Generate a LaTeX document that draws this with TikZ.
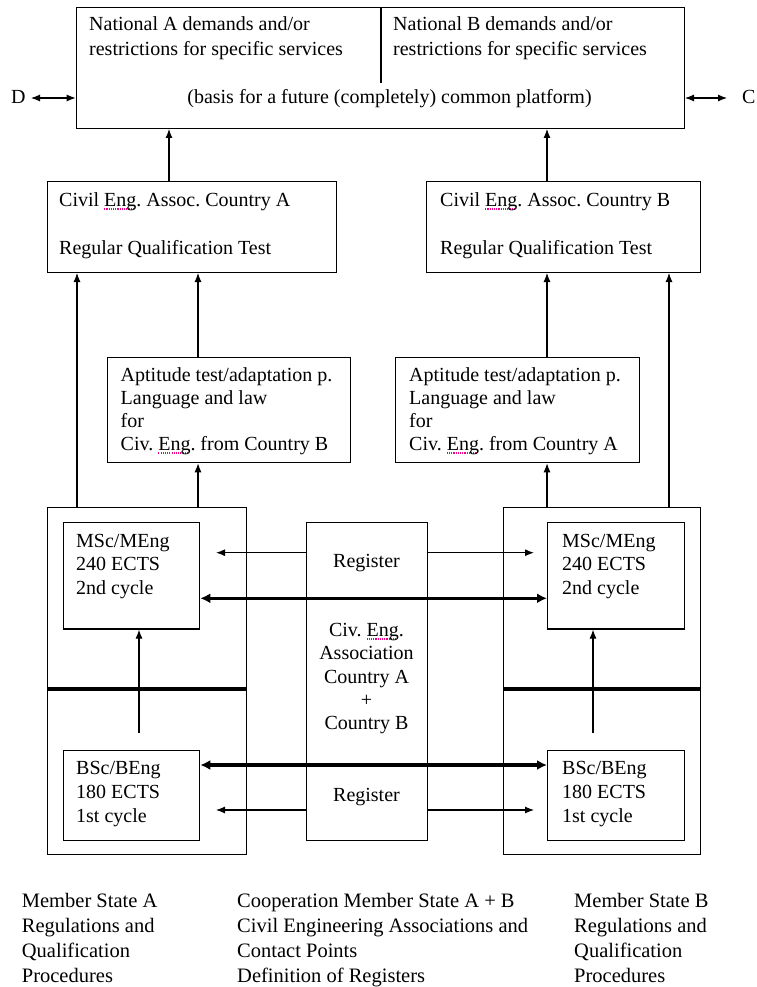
\documentclass[tikz,border=0pt]{standalone}
\usepackage{fontspec}
\setmainfont{Liberation Serif}
\usetikzlibrary{arrows.meta}
\newsavebox\spellbox
\newcommand\spellmark[1]{\sbox\spellbox{#1}\rlap{\raisebox{-3.5pt}{\textcolor{magenta}{\hbox to\wd\spellbox{\leaders\hbox{\rule{1.1pt}{1.1pt}\kern1.1pt}\hfil}}}}\usebox\spellbox}
\frenchspacing
\begin{document}
\frenchspacing
\begin{tikzpicture}[x=1pt,y=-1pt,
  box/.style={draw, line width=1.3pt, inner sep=0pt, anchor=north west},
  txt/.style={anchor=base west, inner sep=0pt, font=\fontsize{20}{23}\selectfont},
  ctxt/.style={anchor=base, inner sep=0pt, font=\fontsize{20}{23}\selectfont},
  foot/.style={anchor=base west, inner sep=0pt, font=\fontsize{20.5}{25}\selectfont},
  tip/.tip={Latex[length=9pt,width=7pt]},
  arr/.style={line width=1.1pt, -tip},
  darr/.style={line width=1.1pt, tip-tip},
  thick arr/.style={line width=3.2pt, {Latex[length=10pt,width=10pt]}-{Latex[length=10pt,width=10pt]}},
  bar/.style={line width=4.2pt}
]
\useasboundingbox (0,0) rectangle (756,987);

% top box
\node[box, minimum width=608pt, minimum height=121pt] (top) at (75.7,6.7) {};
\coordinate (divtop) at (381,6.7);
\coordinate (divbot) at (381,83);
\draw[line width=1.1pt] (divtop) -- (divbot);
\node[txt] (natA1) at (89,31) {National A demands and/or};
\node[txt] (natA2) at (89,56) {restrictions for specific services};
\node[txt] (natB1) at (393,31) {National B demands and/or};
\node[txt] (natB2) at (393,56) {restrictions for specific services};
\node[ctxt] (basis) at (389.5,104) {(basis for a future (completely) common platform)};
\node[txt] (D) at (11,104) {D};
\node[txt] (C) at (742,104) {C};
\coordinate (Dend) at (31,98);
\coordinate (Cend) at (727,98);
\draw[darr] (Dend) -- (Dend -| top.west);
\draw[darr] (top.east |- Cend) -- (Cend);

% civil engineering association boxes
\node[box, minimum width=289pt, minimum height=91pt] (civA) at (47,180.7) {};
\node[box, minimum width=274pt, minimum height=91pt] (civB) at (426,180.7) {};
\node[txt] (civA1) at (59,206) {Civil \spellmark{Eng}. Assoc. Country A};
\node[txt] (civA2) at (59,254) {Regular Qualification Test};
\node[txt] (civB1) at (440,206) {Civil \spellmark{Eng}. Assoc. Country B};
\node[txt] (civB2) at (440,254) {Regular Qualification Test};
\draw[arr] (civA.north -| 169,0) -- (top.south -| 169,0);
\draw[arr] (civB.north -| 547,0) -- (top.south -| 547,0);

% aptitude boxes
\node[box, minimum width=243pt, minimum height=105.3pt] (aptA) at (107,356.7) {};
\node[box, minimum width=244pt, minimum height=105.3pt] (aptB) at (395,356.7) {};
\node[txt] (aptA1) at (120.5,381) {Aptitude test/adaptation p.};
\node[txt] (aptA2) at (120.5,404) {Language and law};
\node[txt] (aptA3) at (120.5,427) {for};
\node[txt] (aptA4) at (120.5,450) {Civ. \spellmark{Eng}. from Country B};
\node[txt] (aptB1) at (409,381) {Aptitude test/adaptation p.};
\node[txt] (aptB2) at (409,404) {Language and law};
\node[txt] (aptB3) at (409,427) {for};
\node[txt] (aptB4) at (409,450) {Civ. \spellmark{Eng}. from Country A};
\draw[arr] (aptA.north -| 198,0) -- (civA.south -| 198,0);
\draw[arr] (aptB.north -| 547,0) -- (civB.south -| 547,0);

% member state outer boxes
\node[box, minimum width=199pt, minimum height=347.3pt] (msA) at (47,506.7) {};
\node[box, minimum width=197pt, minimum height=347.3pt] (msB) at (503,506.7) {};
\draw[arr] (msA.north -| 77,0) -- (civA.south -| 77,0);
\draw[arr] (msB.north -| 669,0) -- (civB.south -| 669,0);
\draw[arr] (msA.north -| 198,0) -- (aptA.south -| 198,0);
\draw[arr] (msB.north -| 547,0) -- (aptB.south -| 547,0);
\draw[bar] (msA.west |- 0,689.3) -- (msA.east |- 0,689.3);
\draw[bar] (msB.west |- 0,689.3) -- (msB.east |- 0,689.3);

% inner boxes
\node[box, minimum width=136pt, minimum height=106.6pt] (mscA) at (63,521.7) {};
\node[box, minimum width=137pt, minimum height=106.6pt] (mscB) at (547,521.7) {};
\node[box, minimum width=136pt, minimum height=90pt] (bscA) at (63,750) {};
\node[box, minimum width=137pt, minimum height=90pt] (bscB) at (547,750) {};
\node[box, minimum width=121pt, minimum height=318.3pt] (cen) at (306,521.7) {};

\node[txt] (mscA1) at (76,547) {MSc/MEng};
\node[txt] (mscA2) at (76,570.5) {240 ECTS};
\node[txt] (mscA3) at (76,594) {2nd cycle};
\node[txt] (mscB1) at (562,547) {MSc/MEng};
\node[txt] (mscB2) at (562,570.5) {240 ECTS};
\node[txt] (mscB3) at (562,594) {2nd cycle};
\node[txt] (bscA1) at (76,774) {BSc/BEng};
\node[txt] (bscA2) at (76,798) {180 ECTS};
\node[txt] (bscA3) at (76,822) {1st cycle};
\node[txt] (bscB1) at (562,774) {BSc/BEng};
\node[txt] (bscB2) at (562,798) {180 ECTS};
\node[txt] (bscB3) at (562,822) {1st cycle};

\node[ctxt] (reg1) at (366.5,567) {Register};
\node[ctxt] (cen1) at (366.5,636) {Civ. \spellmark{Eng}.};
\node[ctxt] (cen2) at (366.5,659) {Association};
\node[ctxt] (cen3) at (366.5,683) {Country A};
\node[ctxt] (cen4) at (366.5,706) {+};
\node[ctxt] (cen5) at (366.5,729) {Country B};
\node[ctxt] (reg2) at (366.5,801) {Register};

% register arrows
\coordinate (rAu) at (216,552.7);
\coordinate (rBu) at (534,552.7);
\coordinate (rAl) at (216,810);
\coordinate (rBl) at (534,810);
\draw[arr] (cen.west |- rAu) -- (rAu);
\draw[arr] (cen.east |- rBu) -- (rBu);
\draw[arr] (cen.west |- rAl) -- (rAl);
\draw[arr] (cen.east |- rBl) -- (rBl);

% thick double arrows
\draw[thick arr] (mscA.east |- 0,598.3) -- (mscB.west |- 0,598.3);
\draw[thick arr] (bscA.east |- 0,765) -- (bscB.west |- 0,765);

% BSc -> MSc arrows
\coordinate (upA) at (139,733);
\coordinate (upB) at (593,733);
\draw[arr] (upA) -- (mscA.south -| upA);
\draw[arr] (upB) -- (mscB.south -| upB);

% footer
\node[foot] (fA1) at (21.7,907) {Member State A};
\node[foot] (fA2) at (21.7,932) {Regulations and};
\node[foot] (fA3) at (21.7,957) {Qualification};
\node[foot] (fA4) at (21.7,982) {Procedures};
\node[foot] (fC1) at (237,907) {Cooperation Member State A + B};
\node[foot] (fC2) at (237,932) {Civil Engineering Associations and};
\node[foot] (fC3) at (237,957) {Contact Points};
\node[foot] (fC4) at (237,982) {Definition of Registers};
\node[foot] (fB1) at (574,907) {Member State B};
\node[foot] (fB2) at (574,932) {Regulations and};
\node[foot] (fB3) at (574,957) {Qualification};
\node[foot] (fB4) at (574,982) {Procedures};
\end{tikzpicture}
\end{document}
